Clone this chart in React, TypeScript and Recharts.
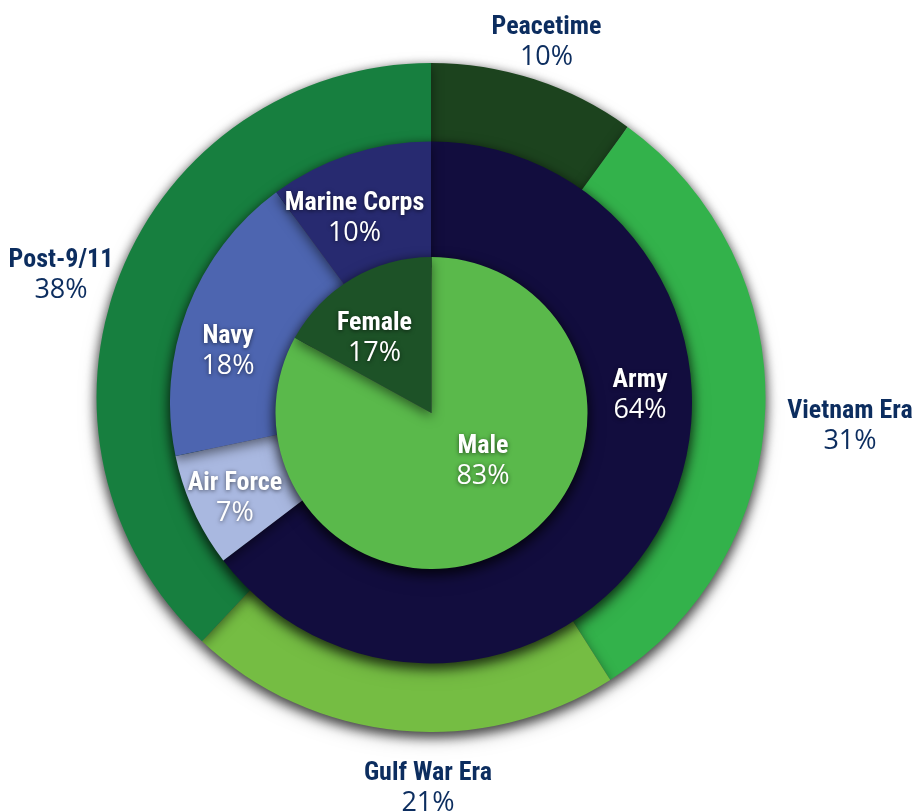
import React from 'react';
import { PieChart, Pie, Cell } from 'recharts';

// ---- data ----
const genderNames = ['Male', 'Female'];
const genderValues = [83, 17];
const branchNames = ['Army', 'Air Force', 'Navy', 'Marine Corps'];
const branchValues = [64, 7, 18, 10];
const eraNames = ['Peacetime', 'Vietnam Era', 'Gulf War Era', 'Post-9/11'];
const eraValues = [10, 31, 21, 38];

// ---- styles ----
const genderColors = ['#5ab94b', '#1d5227'];
const branchColors = ['#120d3e', '#a9b8e0', '#4d65b0', '#272a70'];
const eraColors = ['#1c431e', '#33b24b', '#75bd43', '#177f3f'];

// label anchor offsets (name baseline centre) relative to each ring centre
const eraLabelOffsets = [[115.5, -363.5], [419, 20.5], [-3, 382.5], [-370, -130.5]];
const branchLabelOffsets = [[209, -15.5], [-196, 87.5], [-203, -59.5], [-76.5, -192.5]];
const genderLabelOffsets = [[51.5, 40], [-57, -83]];

const NAME_FONT = "'Liberation Sans Narrow', 'Roboto Condensed', 'DejaVu Sans Condensed', 'Open Sans', sans-serif";
const PCT_FONT = "'Open Sans', 'Liberation Sans', sans-serif";

const eraData = eraNames.map((name, i) => ({ name, value: eraValues[i] }));
const branchData = branchNames.map((name, i) => ({ name, value: branchValues[i] }));
const genderData = genderNames.map((name, i) => ({ name, value: genderValues[i] }));

const makeLabel = (offsets: number[][], color: string, shadow: boolean) => (props: any) => {
  const { cx, cy, index } = props;
  const name = props.name ?? props.payload?.name;
  const value = props.value ?? props.payload?.value;
  const [dx, dy] = offsets[index];
  const x = cx + dx;
  const y = cy + dy;
  return (
    <g key={`lbl-${index}`} style={shadow ? { filter: 'drop-shadow(0px 1px 2px rgba(0,0,0,0.55))' } : undefined}>
      <text x={x} y={y} textAnchor="middle" fill={color} fontFamily={NAME_FONT} fontWeight={700} fontSize={26} style={{ fontStretch: 'condensed' }}>
        {name}
      </text>
      <text x={x} y={y + 31} textAnchor="middle" fill={color} fontFamily={PCT_FONT} fontSize={27}>
        {value}%
      </text>
    </g>
  );
};

const OUTER = { cx: 431, cy: 397.5 };
const MIDDLE = { cx: 431, cy: 402.5 };
const INNER = { cx: 431.5, cy: 413 };

export default function App() {
  return (
    <div style={{ position: 'absolute', left: 0, top: 0, width: 920, height: 812, background: '#ffffff' }}>
      <style>{`.ring-shadow { filter: drop-shadow(0px 4px 6px rgba(0,0,0,0.5)); }`}</style>
      <PieChart width={920} height={812} margin={{ top: 0, right: 0, bottom: 0, left: 0 }}>
        <Pie
          className="ring-shadow"
          data={eraData}
          dataKey="value"
          nameKey="name"
          cx={OUTER.cx}
          cy={OUTER.cy}
          innerRadius={235}
          outerRadius={334.5}
          startAngle={90}
          endAngle={-270}
          stroke="none"
          isAnimationActive={false}
        >
          {eraData.map((d, i) => <Cell key={d.name} fill={eraColors[i]} stroke="none" />)}
        </Pie>
        <Pie
          className="ring-shadow"
          data={branchData}
          dataKey="value"
          nameKey="name"
          cx={MIDDLE.cx}
          cy={MIDDLE.cy}
          innerRadius={135}
          outerRadius={261}
          startAngle={90}
          endAngle={-270}
          stroke="none"
          isAnimationActive={false}
        >
          {branchData.map((d, i) => <Cell key={d.name} fill={branchColors[i]} stroke="none" />)}
        </Pie>
        <Pie
          className="ring-shadow"
          data={genderData}
          dataKey="value"
          nameKey="name"
          cx={INNER.cx}
          cy={INNER.cy}
          innerRadius={0}
          outerRadius={156}
          startAngle={90}
          endAngle={-270}
          stroke="none"
          isAnimationActive={false}
        >
          {genderData.map((d, i) => <Cell key={d.name} fill={genderColors[i]} stroke="none" />)}
        </Pie>
        {/* label layers */}
        <Pie
          data={eraData}
          dataKey="value"
          nameKey="name"
          cx={OUTER.cx}
          cy={OUTER.cy}
          innerRadius={235}
          outerRadius={334.5}
          startAngle={90}
          endAngle={-270}
          fill="none"
          stroke="none"
          labelLine={false}
          label={makeLabel(eraLabelOffsets, '#0c2d5f', false)}
          isAnimationActive={false}
        />
        <Pie
          data={branchData}
          dataKey="value"
          nameKey="name"
          cx={MIDDLE.cx}
          cy={MIDDLE.cy}
          innerRadius={135}
          outerRadius={261}
          startAngle={90}
          endAngle={-270}
          fill="none"
          stroke="none"
          labelLine={false}
          label={makeLabel(branchLabelOffsets, '#ffffff', true)}
          isAnimationActive={false}
        />
        <Pie
          data={genderData}
          dataKey="value"
          nameKey="name"
          cx={INNER.cx}
          cy={INNER.cy}
          innerRadius={0}
          outerRadius={156}
          startAngle={90}
          endAngle={-270}
          fill="none"
          stroke="none"
          labelLine={false}
          label={makeLabel(genderLabelOffsets, '#ffffff', true)}
          isAnimationActive={false}
        />
      </PieChart>
    </div>
  );
}
